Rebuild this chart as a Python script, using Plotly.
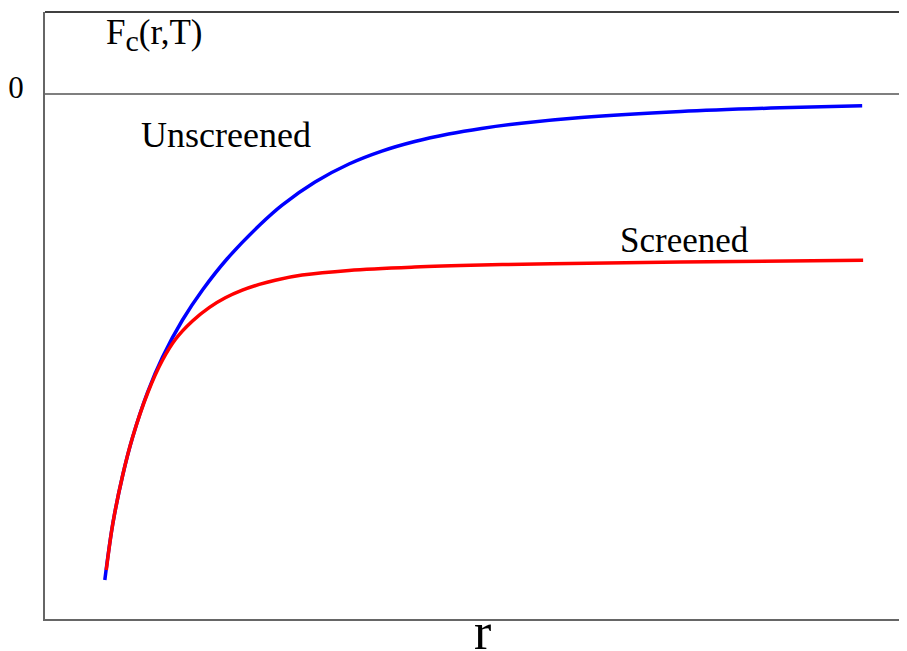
import plotly.graph_objects as go

# Unscreened curve (blue)
r_unscreened = [0.694, 0.786, 0.902, 1.017, 1.191, 1.364, 1.595, 1.827, 2.116, 2.497,
                2.751, 3.133, 3.526, 3.908, 4.289, 4.682, 5.064, 5.526, 6.220, 7.376,
                8.532, 9.480]
F_unscreened = [-4.86, -4.30, -3.81, -3.43, -2.98, -2.63, -2.26, -1.96, -1.645, -1.305,
                -1.111, -0.88, -0.70, -0.571, -0.475, -0.40, -0.344, -0.292, -0.235, -0.175,
                -0.138, -0.117]

# Screened curve (red)
r_screened = [0.711, 0.786, 0.902, 1.017, 1.191, 1.364, 1.514, 1.711, 1.908, 2.092,
              2.289, 2.486, 2.671, 2.983, 3.526, 4.289, 5.064, 5.873, 7.376, 9.491]
F_screened = [-4.76, -4.30, -3.81, -3.43, -2.99, -2.66, -2.452, -2.27, -2.134, -2.038,
              -1.962, -1.904, -1.862, -1.811, -1.764, -1.731, -1.711, -1.697, -1.681, -1.663]

y_tick_vals = [0]
y_tick_text = ["0"]

FONT = "Liberation Serif"

fig = go.Figure()
fig.add_trace(go.Scatter(x=r_unscreened, y=F_unscreened, mode="lines",
                         line=dict(color="#0000ff", width=3.5, shape="spline", smoothing=1),
                         name="Unscreened", showlegend=False))
fig.add_trace(go.Scatter(x=r_screened, y=F_screened, mode="lines",
                         line=dict(color="#ff0000", width=3.5, shape="spline", smoothing=1),
                         name="Screened", showlegend=False))

# zero line and top frame
fig.add_shape(type="line", xref="paper", yref="y", x0=0, x1=1, y0=0, y1=0,
              line=dict(color="black", width=1.2))
fig.add_shape(type="line", xref="paper", yref="paper", x0=0, x1=1, y0=1, y1=1,
              line=dict(color="black", width=1.5))

fig.add_annotation(x=1.087, y=-0.41, xref="x", yref="y", text="Unscreened",
                   showarrow=False, xanchor="left", yanchor="middle",
                   font=dict(family=FONT, size=36, color="black"))
fig.add_annotation(x=6.647, y=-1.46, xref="x", yref="y", text="Screened",
                   showarrow=False, xanchor="left", yanchor="middle",
                   font=dict(family=FONT, size=35, color="black"))
fig.add_annotation(x=0.068, y=0.962, xref="paper", yref="paper",
                   text="F<sub><span style='font-size:30px'>c</span></sub>(r,T)",
                   showarrow=False, xanchor="left", yanchor="middle",
                   font=dict(family=FONT, size=35, color="black"))
fig.add_annotation(x=0.5075, y=-0.0214, xref="paper", yref="paper", text="r",
                   showarrow=False, xanchor="center", yanchor="middle",
                   font=dict(family=FONT, size=52, color="black"))

fig.update_layout(
    width=899, height=643,
    margin=dict(l=33, r=0, t=4, b=32),
    paper_bgcolor="white", plot_bgcolor="white",
    xaxis=dict(range=[0, 10], showgrid=False, zeroline=False, showticklabels=False,
               ticks="", showline=True, linecolor="#666666", linewidth=2),
    yaxis=dict(range=[-5.25, 0.82], showgrid=False, zeroline=False,
               tickvals=y_tick_vals, ticktext=y_tick_text, ticks="",
               ticklabelstandoff=13, ticklabelshift=-7,
               tickfont=dict(family=FONT, size=31, color="black"),
               showline=True, linecolor="#666666", linewidth=2),
)

fig.write_html("out.html")
